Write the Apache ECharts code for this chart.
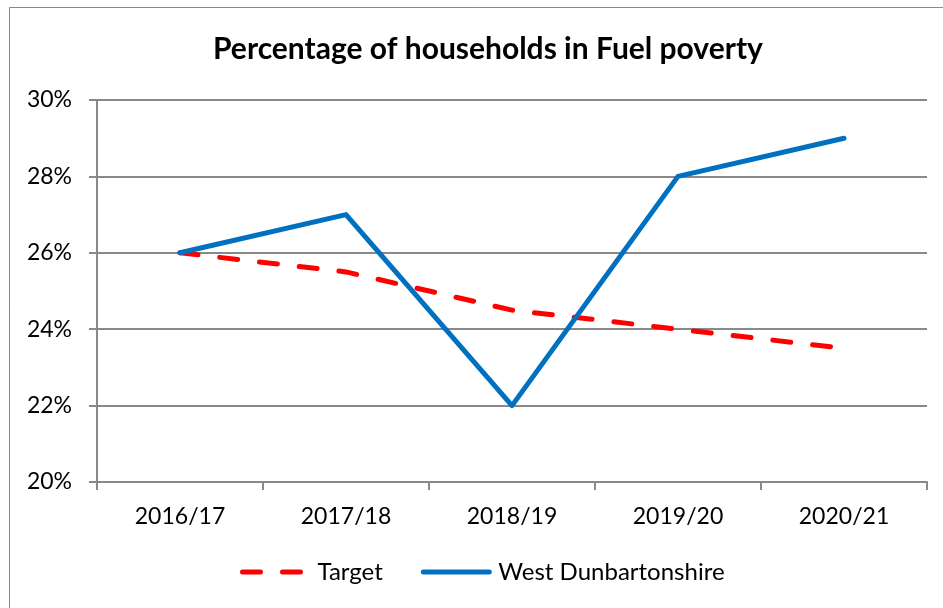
<!DOCTYPE html>
<html>
<head>
<meta charset="utf-8">
<script src="https://cdn.jsdelivr.net/npm/echarts@6/dist/echarts.min.js"></script>
<style>
  html, body { margin: 0; padding: 0; background: #fff; }
  #main { width: 943px; height: 608px; }
</style>
</head>
<body>
<div id="main"></div>
<script>
var years = ["2016/17", "2017/18", "2018/19", "2019/20", "2020/21"];
var target = [26, 25.5, 24.5, 24, 23.5];
var westDunbartonshire = [26, 27, 22, 28, 29];

var font = "Lato";
var gridColor = "#898989";

var myEchart = echarts.init(document.getElementById("main"));
var option = {
  animation: false,
  backgroundColor: "#fff",
  graphic: [
    {
      type: "rect",
      shape: { x: 9.5, y: 7.5, width: 1000, height: 700 },
      style: { fill: "none", stroke: gridColor, lineWidth: 1 },
      silent: true
    }
  ],
  title: {
    text: "Percentage of households in Fuel poverty",
    left: 208,
    top: 29,
    textStyle: { fontFamily: font, fontWeight: "bold", fontSize: 30, color: "#000" }
  },
  legend: {
    bottom: 19,
    left: 235,
    itemWidth: 66,
    itemHeight: 14,
    itemGap: 38,
    itemStyle: { opacity: 0 },
    lineStyle: { width: 5 },
    textStyle: { fontFamily: font, fontSize: 24, color: "#000", padding: [0, 0, 0, 4] },
    data: ["Target", "West Dunbartonshire"]
  },
  grid: { left: 97, right: 16, top: 100, bottom: 126 },
  xAxis: {
    type: "category",
    data: years,
    boundaryGap: true,
    axisLine: { lineStyle: { color: gridColor, width: 2 } },
    axisTick: { show: true, length: 8, lineStyle: { color: gridColor, width: 2 } },
    axisLabel: { fontFamily: font, fontSize: 23, color: "#000", margin: 23 }
  },
  yAxis: {
    type: "value",
    min: 20,
    max: 30,
    interval: 2,
    axisLine: { show: true, lineStyle: { color: gridColor, width: 2 } },
    axisTick: { show: true, length: 8, lineStyle: { color: gridColor, width: 2 } },
    splitLine: { lineStyle: { color: gridColor, width: 2 } },
    axisLabel: { fontFamily: font, fontSize: 23, color: "#000", margin: 25, formatter: "{value}%" }
  },
  series: [
    {
      name: "Target",
      type: "line",
      data: target,
      symbol: "none",
      lineStyle: { color: "#ff0000", width: 5, type: [18, 22], cap: "round" },
      itemStyle: { color: "#ff0000" }
    },
    {
      name: "West Dunbartonshire",
      type: "line",
      data: westDunbartonshire,
      symbol: "none",
      lineStyle: { color: "#0070c0", width: 5, cap: "round", join: "round" },
      itemStyle: { color: "#0070c0" }
    }
  ]
};
option && myEchart.setOption(option);
</script>
</body>
</html>
